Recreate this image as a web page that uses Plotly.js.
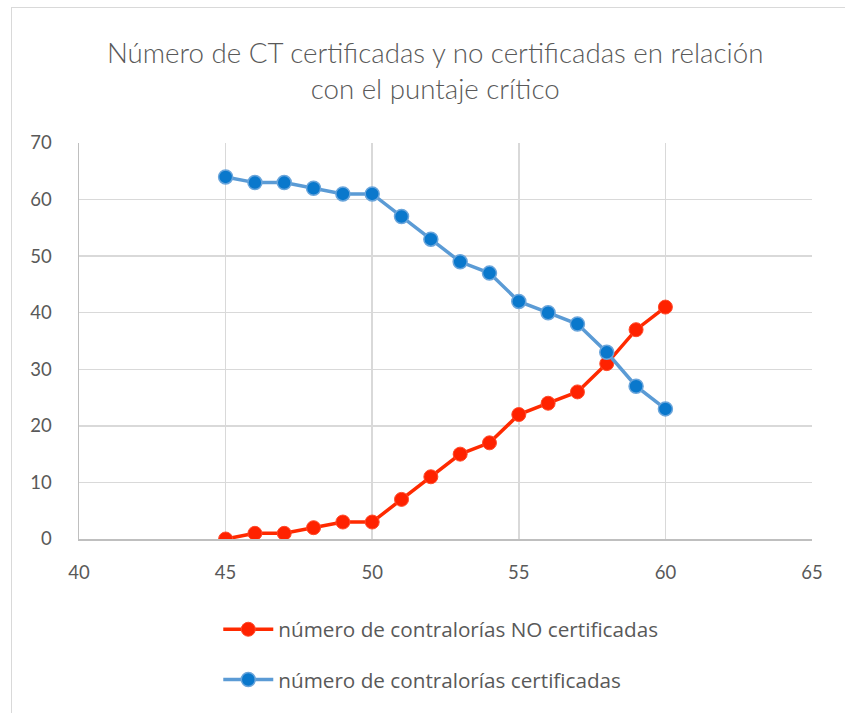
<!DOCTYPE html>
<html>
<head>
<meta charset="utf-8">
<script src="https://cdn.plot.ly/plotly-3.0.1.min.js"></script>
<style>
  html, body { margin: 0; padding: 0; background: #ffffff; }
  #wrap { position: relative; width: 845px; height: 713px; overflow: hidden; }
  #frame { position: absolute; left: 11px; top: 7px; width: 850px; height: 720px; border: 1.5px solid #d9d9d9; box-sizing: border-box; pointer-events: none; }
  #chart { position: absolute; left: 0; top: 0; width: 845px; height: 713px; }
</style>
</head>
<body>
<div id="wrap">
  <div id="frame"></div>
  <div id="chart"></div>
</div>
<script>
const puntaje = [45, 46, 47, 48, 49, 50, 51, 52, 53, 54, 55, 56, 57, 58, 59, 60];
const noCertificadas = [0, 1, 1, 2, 3, 3, 7, 11, 15, 17, 22, 24, 26, 31, 37, 41];
const certificadas = [64, 63, 63, 62, 61, 61, 57, 53, 49, 47, 42, 40, 38, 33, 27, 23];
const xTicks = [40, 45, 50, 55, 60, 65];
const yTicks = [0, 10, 20, 30, 40, 50, 60, 70];

const fontFam = 'Lato, "Open Sans", sans-serif';
const legendFam = '"Open Sans", Lato, sans-serif';

const traces = [
  {
    x: puntaje, y: noCertificadas, type: 'scatter', mode: 'lines+markers',
    name: 'número de contralorías NO certificadas',
    line: { color: '#ff2a00', width: 3.5 },
    marker: { color: '#ff2200', size: 14, line: { color: '#ff4a2a', width: 1 } },
    legend: 'legend'
  },
  {
    x: puntaje, y: certificadas, type: 'scatter', mode: 'lines+markers',
    name: 'número de contralorías certificadas',
    line: { color: '#5b9bd5', width: 3.5 },
    marker: { color: '#0a78cc', size: 14, line: { color: '#6aa5db', width: 1.5 } },
    legend: 'legend2'
  }
];

const legendCommon = {
  xref: 'paper', yref: 'paper', xanchor: 'left', yanchor: 'middle',
  font: { family: legendFam, size: 20.7, color: '#595959' },
  bgcolor: 'rgba(0,0,0,0)', itemwidth: 50, borderwidth: 0
};

const layout = {
  width: 845, height: 713,
  margin: { l: 79, r: 33, t: 143, b: 174 },
  paper_bgcolor: 'rgba(0,0,0,0)',
  plot_bgcolor: '#ffffff',
  title: {
    text: 'Número de CT certificadas y no certificadas en relación<br>con el puntaje crítico',
    font: { family: fontFam, size: 27.7, color: '#595959', weight: 300 },
    x: 0.515, xanchor: 'center', y: 0.911, yanchor: 'top'
  },
  xaxis: {
    range: [40, 65], tickvals: xTicks, ticktext: xTicks.map(String),
    showgrid: true, gridcolor: '#d9d9d9', gridwidth: 1.5,
    showline: true, linecolor: '#bfbfbf', linewidth: 1.5, mirror: false,
    zeroline: false, ticks: '', ticklabelstandoff: 16,
    tickfont: { family: fontFam, size: 18.5, color: '#595959' }
  },
  yaxis: {
    range: [0, 70], tickvals: yTicks, ticktext: yTicks.map(String),
    showgrid: true, gridcolor: '#d9d9d9', gridwidth: 1.5,
    showline: true, linecolor: '#bfbfbf', linewidth: 1.5,
    zeroline: false, ticks: '', ticklabelstandoff: 22,
    tickfont: { family: fontFam, size: 18.5, color: '#595959' }
  },
  legend: Object.assign({}, legendCommon, { x: 0.19, y: -0.228 }),
  legend2: Object.assign({}, legendCommon, { x: 0.19, y: -0.355 }),
  showlegend: true
};

Plotly.newPlot('chart', traces, layout, { displayModeBar: false, staticPlot: true });
</script>
</body>
</html>
